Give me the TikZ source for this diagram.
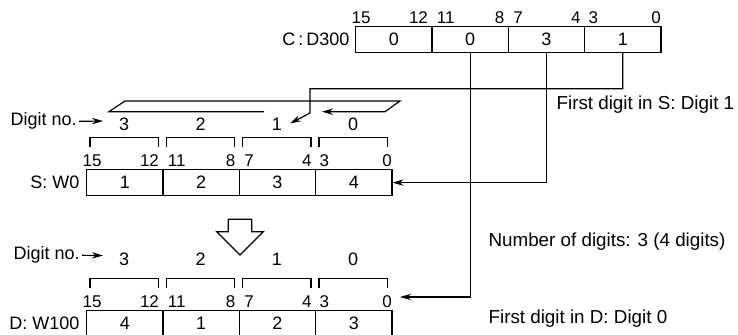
\documentclass[tikz,border=0pt]{standalone}
\usepackage{fontspec}
\setmainfont{Liberation Sans}
\usetikzlibrary{arrows.meta}

\begin{document}
\begin{tikzpicture}[x=0.5pt,y=-0.5pt,line width=0.6pt,font=\fontsize{9}{10}\selectfont,
    cell/.style={draw,minimum width=38.17pt,minimum height=13pt,inner sep=0pt,anchor=north west},
    bitno/.style={inner sep=0pt,anchor=base west,font=\fontsize{8.5}{9}\selectfont},
    note/.style={inner sep=0pt,anchor=base west,font=\fontsize{9.4}{11}\selectfont},
    >={Stealth[length=5.5pt,width=3.2pt]}]
  \useasboundingbox (0,0) rectangle (738,335);
  % control word C:D300
  \foreach \i/\v in {0/0,1/0,2/3,3/1}
    {\node[cell] (c\i) at (355+\i*76.33,26) {\v};}
  \node[anchor=east,inner sep=0pt] (clab) at ([xshift=-2.5pt]c0.west) {C\,:\,D300};
  % S and D words with digit brackets
  \foreach \r/\top/\va/\vb/\vc/\vd in {s/169/1/2/3/4,d/309.8/4/1/2/3}
    {\foreach \i/\v in {0/\va,1/\vb,2/\vc,3/\vd}
      {\node[cell] (\r\i) at (86+\i*76.33,\top) {\v};
       \draw (90+\i*76.33,\top-21.5) -- ++(0,-10) -- ++(68.3,0) -- ++(0,10);}}
  \node[anchor=east,inner sep=0pt] (slab) at ([xshift=-3pt]s0.west) {S: W0};
  \node[anchor=east,inner sep=0pt] (dlab) at ([xshift=-3pt]d0.west) {D: W100};
  % bit numbers
  \foreach \r in {c,s,d}
    {\foreach \i/\hi/\lo/\dl/\dr in {0/15/12/-4/-4,1/11/8/5/-4,2/7/4/5/-4,3/3/0/4/0}
      {\node[bitno] (\r hi\i) at ([xshift={\dl*0.5pt},yshift=1pt]\r\i.north west) {\hi};
       \node[bitno,anchor=base east] (\r lo\i) at ([xshift={\dr*0.5pt},yshift=1pt]\r\i.north east) {\lo};}}
  % digit numbers
  \foreach \n/\x/\y/\yd in {1/8/126/124.5,2/11/260/259}
    {\node[anchor=base west,inner sep=1pt] (digno\n) at (\x,\y) {Digit no.};
     \draw[->] (digno\n.east) -- (103,\yd-3.5);
     \foreach \i/\v in {0/3,1/2,2/1,3/0}
       {\node[inner sep=0pt] (dn\n\i) at (124.2+\i*76.33,\yd) {\v};}}
  % rotation
  \draw[->] (264,111.7) -- (109,111.7) -- (125,101) -- (400,101) -- (385,111.7) -- (322,111.7);
  \draw[fill=white] (228.3,219.3) -- (251.7,219.3) -- (251.7,231.7) -- (263.3,231.7)
    -- (240,255) -- (216.7,231.7) -- (228.3,231.7) -- cycle;
  % connectors
  \coordinate (bend) at (310,113);
  \coordinate (s1tip) at (290,123.5);
  \coordinate (dtip) at (400,297);
  \draw[->] (c3.south) -- ++(0,35.5) -| (bend) -- (s1tip);
  \draw[->] (c2.south) |- (s3.east);
  \draw[->] (c1.south) |- (dtip);
  \node[note] (sfirst) at (556,110) {First digit in S: Digit 1};
  \node[note] (ndig) at (488,246.7) {Number of digits: 3 (4 digits)};
  \node[note] (dfirst) at (488,323.3) {First digit in D: Digit 0};
\end{tikzpicture}
\end{document}
